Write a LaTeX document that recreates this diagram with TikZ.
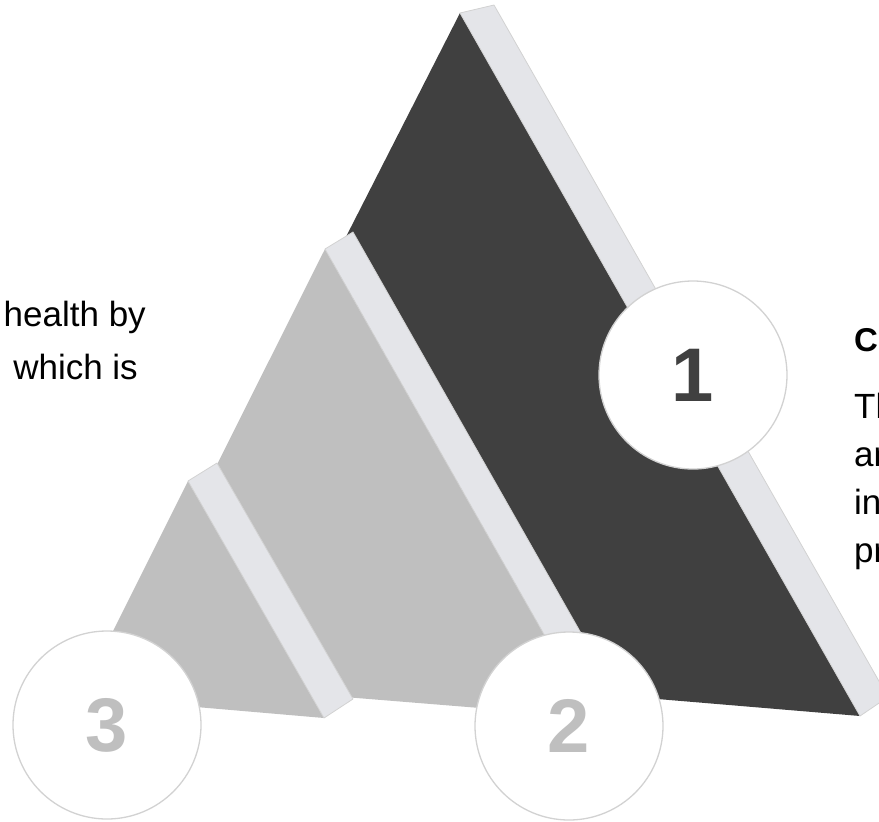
\documentclass[tikz,border=0pt]{standalone}
\usepackage{fontspec}
\setmainfont{Liberation Sans}

\definecolor{darkface}{HTML}{404040}
\definecolor{midface}{HTML}{BFBFBF}
\definecolor{stripface}{HTML}{E4E5E9}
\definecolor{rimline}{HTML}{D2D2D2}

\newcommand*{\pw}{879}
\newcommand*{\ph}{822}

\begin{document}
\begin{tikzpicture}
[
	x=1pt,y=-1pt,
	strip/.style={fill=stripface,draw=rimline,line width=0.8pt,line join=round},
	numcirc/.style={circle,draw=rimline,fill=white,line width=1.3pt,minimum size=188pt,inner sep=0pt,font=\fontsize{76}{76}\selectfont\bfseries},
	bodytext/.style={inner sep=0pt,font=\fontsize{35}{42}\selectfont}
]

	% page
	\useasboundingbox (0,0) rectangle (\pw,\ph);
	\clip (0,0) rectangle (\pw,\ph);

	% big face
	\fill[darkface] (460,13) -- (860,716) -- (133,655) -- cycle;
	\draw[strip] (460,13) -- (494,5) -- (888,697) -- (860,716) -- cycle;

	% middle face
	\fill[midface] (325,249) -- (591,717) -- (110,678) -- cycle;
	\draw[strip] (325,249) -- (353,232) -- (619,700) -- (591,717) -- cycle;

	% small face
	\fill[midface] (188,481) -- (324,718) -- (80,697) -- cycle;
	\draw[strip] (188,481) -- (217,463) -- (353,699) -- (324,718) -- cycle;

	% numbers
	\node[numcirc,text=darkface] (one) at (693,375) {1};
	\node[numcirc,text=midface] (two) at (569,726) {2};
	\node[numcirc,text=midface] (three) at (107,725) {3};

	% left text
	\node[bodytext,anchor=base east] (lefta) at (146,326) {health by};
	\node[bodytext,anchor=base east] (leftb) at (138,379) {which is};

	% right text
	\node[bodytext,anchor=base west,font=\fontsize{33}{40}\selectfont\bfseries] (head) at (854,351) {C};
	\foreach \t/\y/\n in {Th/418/ra,an/466/rb,in/514/rc,pr/562/rd} {
		\node[bodytext,anchor=base west] (\n) at (854,\y) {\t};
	}

\end{tikzpicture}
\end{document}
